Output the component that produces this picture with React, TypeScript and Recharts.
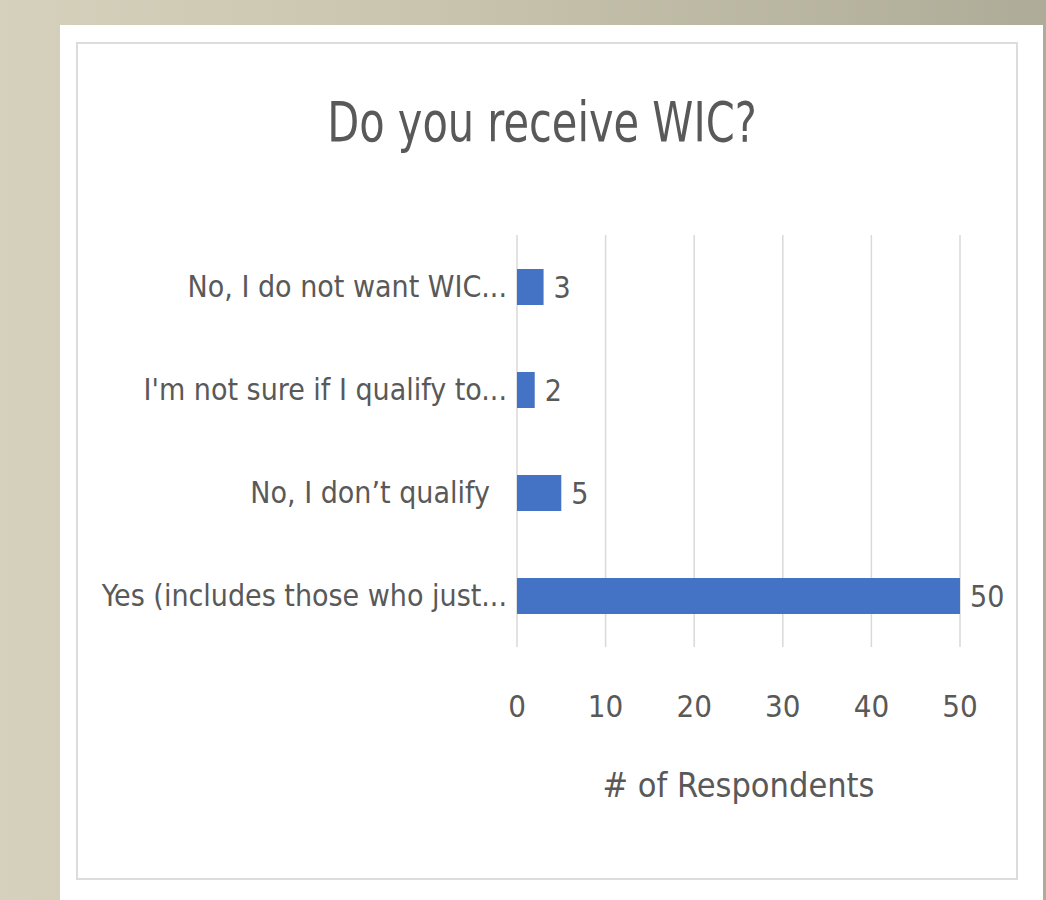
import { BarChart, Bar, XAxis, YAxis, CartesianGrid, LabelList } from 'recharts';

const categories = [
    'No, I do not want WIC...',
    "I'm not sure if I qualify to...",
    'No, I don\u2019t qualify\u00a0\u00a0',
    'Yes (includes those who just...',
];
const respondents = [3, 2, 5, 50];
const xTicks = [0, 10, 20, 30, 40, 50];

const FONT = '"Liberation Sans Narrow", "DejaVu Sans Condensed", "Arial Narrow", sans-serif';
const TEXT = '#595959';
const BAR = '#4472C4';

const data = categories.map((name, i) => ({ name, value: respondents[i] }));

export default function App() {
    return (
        <div
            style={{
                position: 'absolute',
                left: 0,
                top: 0,
                width: 1046,
                height: 900,
                overflow: 'hidden',
                background: 'linear-gradient(90deg, #d6d1bc 0%, #c9c5ae 40%, #aeab98 100%)',
                fontFamily: FONT,
            }}
        >
            {/* white card */}
            <div style={{ position: 'absolute', left: 60, top: 25, width: 983, height: 875, background: '#ffffff' }} />
            {/* chart frame */}
            <div
                style={{
                    position: 'absolute',
                    left: 76,
                    top: 42,
                    width: 938,
                    height: 834,
                    border: '2px solid #dcdcdc',
                }}
            />
            <div
                style={{
                    position: 'absolute',
                    left: 72,
                    top: 87,
                    width: 940,
                    textAlign: 'center',
                    fontSize: 55,
                    color: TEXT,
                    lineHeight: '70px',
                    transform: 'scaleX(0.84)',
                }}
            >
                Do you receive WIC?
            </div>
            <div style={{ position: 'absolute', left: 0, top: 0 }}>
                <BarChart
                    width={1046}
                    height={900}
                    data={data}
                    layout="vertical"
                    margin={{ top: 235, right: 86, bottom: 93, left: 97 }}
                >
                    <CartesianGrid horizontal={false} stroke="#d9d9d9" strokeWidth={1.5} />
                    <XAxis
                        type="number"
                        domain={[0, 50]}
                        ticks={xTicks}
                        axisLine={false}
                        tickLine={false}
                        height={160}
                        tickMargin={42}
                        tick={{ fill: TEXT, fontSize: 31, fontFamily: FONT }}
                        label={{
                            value: '# of Respondents',
                            position: 'insideBottom',
                            offset: 10,
                            fill: TEXT,
                            fontSize: 34,
                            fontFamily: FONT,
                        }}
                    />
                    <YAxis
                        type="category"
                        dataKey="name"
                        width={420}
                        axisLine={false}
                        tickLine={false}
                        tickMargin={4}
                        tick={{ fill: TEXT, fontSize: 30, fontFamily: FONT }}
                    />
                    <Bar dataKey="value" fill={BAR} barSize={36} isAnimationActive={false}>
                        <LabelList
                            dataKey="value"
                            position="right"
                            offset={10}
                            fill={TEXT}
                            fontSize={30}
                            fontFamily={FONT}
                        />
                    </Bar>
                </BarChart>
            </div>
        </div>
    );
}
